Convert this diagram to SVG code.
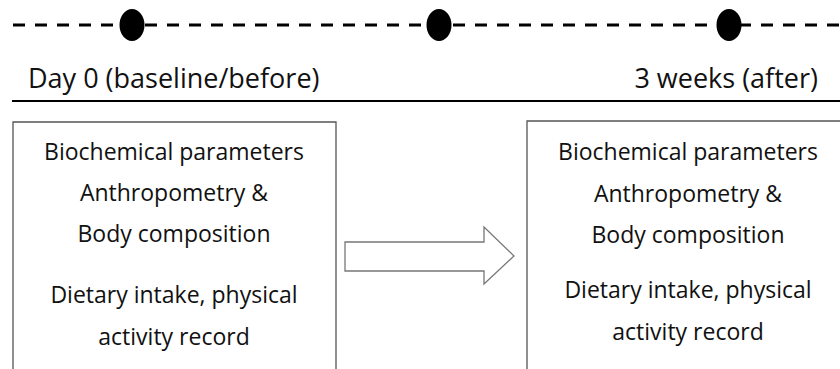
<svg xmlns="http://www.w3.org/2000/svg" width="840" height="369" viewBox="0 0 840 369">
<style>
text{font-family:"Open Sans","Noto Sans",sans-serif;fill:#111;}
.lbl{font-size:27px;}
.bt{font-size:23px;text-anchor:middle;}
.box{fill:none;stroke:#555;stroke-width:1.3;}
.dot{fill:#000;}
</style>
<rect width="840" height="369" fill="#fff"/>
<g id="timeline">
<line x1="13" y1="25" x2="840" y2="25" stroke="#000" stroke-width="3" stroke-dasharray="12 10"/>
<ellipse class="dot" cx="132" cy="25" rx="12.5" ry="16"/>
<ellipse class="dot" cx="439" cy="25" rx="12.5" ry="16"/>
<ellipse class="dot" cx="729" cy="25" rx="12.5" ry="16"/>
</g>
<g id="label-day0"><text class="lbl" x="28" y="88">Day 0 (baseline/before)</text></g>
<g id="label-3weeks"><text class="lbl" x="818" y="88" text-anchor="end">3 weeks (after)</text></g>
<line x1="12" y1="101" x2="840" y2="101" stroke="#000" stroke-width="2"/>
<g id="box-before">
<path class="box" d="M13,369 V122 H336 V369"/>
<text class="bt" x="174" y="160">Biochemical parameters</text>
<text class="bt" x="174" y="201">Anthropometry &amp;</text>
<text class="bt" x="174" y="242">Body composition</text>
<text class="bt" x="174" y="303">Dietary intake, physical</text>
<text class="bt" x="174" y="345">activity record</text>
</g>
<g id="connectors">
<path d="M345,242 H484 V227 L514,256 L484,284 V271 H345 Z" fill="#fff" stroke="#777" stroke-width="1.3"/>
</g>
<g id="box-after">
<path class="box" d="M527,369 V121 H841"/>
<text class="bt" x="688" y="160">Biochemical parameters</text>
<text class="bt" x="688" y="202">Anthropometry &amp;</text>
<text class="bt" x="688" y="243">Body composition</text>
<text class="bt" x="688" y="298">Dietary intake, physical</text>
<text class="bt" x="688" y="340">activity record</text>
</g>
</svg>
